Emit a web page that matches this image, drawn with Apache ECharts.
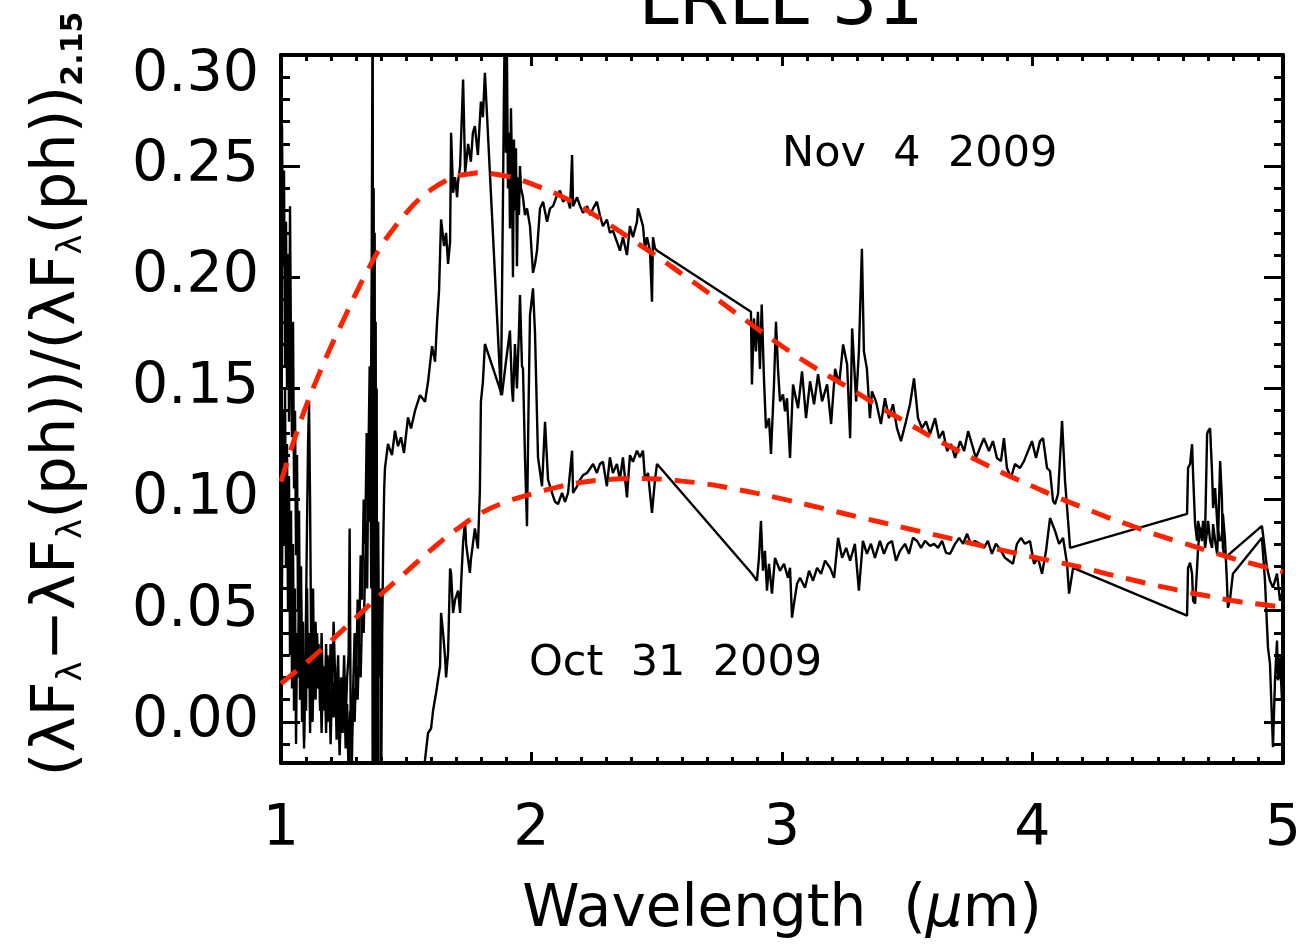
<!DOCTYPE html>
<html><head><meta charset="utf-8">
<script src="https://cdn.jsdelivr.net/npm/echarts@6/dist/echarts.min.js"></script>
<style>html,body{margin:0;padding:0;background:#fff}#c{width:1305px;height:946px}</style>
</head><body><div id="c"></div>
<script>
const FONT = 'DejaVu Sans';
const titleText = 'LRLL 31';
const xLabelText = 'Wavelength';
const yMajorTicks = [0, 0.05, 0.10, 0.15, 0.20, 0.25, 0.30];
const yMinorTicks = [-0.01, 0.01, 0.02, 0.03, 0.04, 0.06, 0.07, 0.08, 0.09, 0.11, 0.12, 0.13, 0.14,
  0.16, 0.17, 0.18, 0.19, 0.21, 0.22, 0.23, 0.24, 0.26, 0.27, 0.28, 0.29];
const annotations = ['Nov  4  2009', 'Oct  31  2009'];

// Nov 4 2009 spectrum [wavelength (um), value]
const novSpectrum = [
[1.000,0.170],[1.004,0.268],[1.008,0.205],[1.012,0.248],[1.016,0.160],[1.020,0.225],[1.024,0.150],[1.028,0.210],[1.032,0.135],[1.036,0.232],[1.040,0.165],[1.044,0.128],[1.048,0.180],[1.052,0.105],[1.056,0.140],[1.060,0.075],[1.064,0.120],[1.068,0.050],[1.072,0.095],[1.076,0.030],[1.080,0.070],[1.084,0.010],[1.088,0.045],[1.092,-0.008],[1.096,0.030],[1.100,0.005],[1.104,0.060],[1.108,0.015],[1.112,0.040],[1.116,-0.005],[1.120,0.025],[1.126,0.000],[1.132,0.035],[1.138,0.010],[1.144,0.040],[1.150,0.015],[1.156,0.030],[1.162,-0.005],[1.168,0.025],[1.174,0.005],[1.180,0.035],[1.186,0.000],[1.192,0.020],[1.198,-0.010],[1.204,0.018],[1.210,0.002],[1.216,0.025],[1.222,-0.008],[1.228,0.012],[1.234,-0.015],[1.240,0.010],[1.246,-0.005],[1.252,0.020],[1.258,-0.012],[1.264,0.008],[1.270,-0.025],[1.276,0.005],[1.282,-0.010],[1.288,0.015],[1.294,0.040],[1.300,0.020],[1.306,0.055],[1.312,0.035],[1.318,0.075],[1.324,0.055],[1.330,0.100],[1.336,0.080],[1.342,0.130],[1.348,0.110],[1.354,0.160],[1.358,0.120],[1.362,0.200],[1.366,0.340],[1.368,-0.030],[1.370,0.240],[1.372,0.010],[1.374,0.220],[1.376,-0.030],[1.378,0.180],[1.380,0.020],[1.382,0.150],[1.384,-0.030],[1.388,0.090],[1.392,0.020],[1.396,0.060],[1.400,-0.030],[1.404,0.040],[1.408,0.080],[1.412,0.105],
[1.415,0.114],[1.427,0.125],[1.443,0.120],[1.455,0.131],[1.467,0.124],[1.479,0.128],[1.491,0.121],[1.507,0.137],[1.519,0.132],[1.535,0.140],[1.555,0.147],[1.575,0.144],[1.587,0.153],[1.603,0.169],[1.615,0.162],[1.623,0.180],[1.631,0.194],[1.639,0.226],[1.651,0.214],[1.659,0.220],[1.667,0.206],[1.675,0.216],[1.679,0.265],[1.687,0.238],[1.695,0.245],[1.703,0.236],[1.707,0.243],[1.715,0.250],[1.727,0.289],[1.735,0.247],[1.747,0.260],[1.758,0.252],[1.766,0.265],[1.774,0.268],[1.786,0.255],[1.798,0.279],[1.806,0.272],[1.814,0.292],
[1.878,0.147],[1.886,0.234],[1.890,0.283],[1.894,0.320],[1.898,0.256],[1.902,0.300],[1.906,0.240],[1.910,0.265],[1.914,0.222],[1.918,0.276],[1.922,0.250],[1.926,0.200],[1.930,0.262],[1.934,0.230],[1.938,0.258],[1.942,0.205],[1.946,0.245],[1.950,0.228],[1.954,0.250],[1.958,0.240],[1.966,0.236],[1.974,0.228],[1.982,0.231],[1.994,0.223],[2.006,0.202],[2.014,0.206],[2.022,0.212],[2.034,0.231],[2.046,0.234],[2.062,0.225],[2.074,0.231],[2.086,0.232],[2.102,0.237],[2.114,0.239],[2.126,0.234],[2.142,0.236],[2.154,0.231],[2.162,0.255],[2.166,0.232],[2.182,0.236],[2.194,0.232],[2.206,0.229],[2.222,0.232],[2.234,0.228],[2.246,0.231],[2.261,0.234],[2.273,0.228],[2.285,0.223],[2.301,0.226],[2.313,0.220],[2.325,0.221],[2.341,0.216],[2.353,0.212],[2.365,0.218],[2.381,0.210],[2.393,0.223],[2.405,0.218],[2.421,0.225],[2.425,0.231],[2.433,0.228],[2.445,0.223],[2.453,0.213],[2.461,0.218],[2.473,0.212],[2.481,0.189],[2.485,0.218],[2.493,0.213],[2.501,0.212],
[2.876,0.1845],[2.880,0.1518],[2.888,0.1815],[2.896,0.1666],[2.904,0.1845],[2.912,0.1588],[2.919,0.1877],[2.928,0.1545],[2.936,0.1321],[2.948,0.1366],[2.956,0.1205],[2.968,0.1518],[2.976,0.180],[2.984,0.1588],[2.992,0.1442],[3.004,0.1473],[3.012,0.1397],[3.020,0.1456],[3.032,0.1187],[3.044,0.1518],[3.064,0.1411],[3.080,0.1577],[3.096,0.1366],[3.112,0.1532],[3.128,0.1429],[3.144,0.1564],[3.160,0.1442],[3.180,0.1518],[3.196,0.134],[3.212,0.1588],[3.228,0.1518],[3.244,0.1698],[3.260,0.1608],[3.272,0.1276],[3.280,0.1770],[3.296,0.1442],[3.307,0.1666],[3.319,0.2128],[3.327,0.1666],[3.339,0.1588],[3.351,0.1366],[3.359,0.1487],[3.375,0.1442],[3.395,0.134],[3.411,0.1456],[3.427,0.1366],[3.443,0.1429],[3.459,0.1321],[3.475,0.1263],[3.495,0.1352],[3.511,0.1429],[3.527,0.1545],[3.543,0.1366],[3.559,0.1321],[3.575,0.1352],[3.591,0.1294],[3.611,0.1366],[3.627,0.1276],[3.643,0.1308],[3.659,0.1218],[3.675,0.125],[3.691,0.1187],[3.711,0.1263],[3.727,0.1218],[3.743,0.1308],[3.758,0.125],[3.774,0.1187],[3.790,0.1232],[3.806,0.1276],[3.826,0.1218],[3.842,0.1263],[3.858,0.1187],[3.874,0.1173],[3.886,0.1276],[3.898,0.1142],[3.914,0.1097],[3.930,0.116],[3.950,0.1142],[3.966,0.1173],[3.982,0.1218],[3.998,0.1263],[4.014,0.1187],[4.030,0.1263],[4.042,0.1276],[4.058,0.1142],[4.070,0.1128],[4.082,0.0994],[4.090,0.098],[4.102,0.1025],[4.118,0.1353],[4.130,0.1083],[4.142,0.0904],[4.150,0.0783],
[4.617,0.0936],[4.621,0.1142],[4.629,0.116],[4.637,0.1249],[4.641,0.1115],[4.649,0.089],[4.657,0.0814],[4.661,0.0904],[4.669,0.0859],[4.677,0.0814],[4.681,0.089],[4.689,0.0846],[4.697,0.1294],[4.701,0.1308],[4.709,0.1321],[4.717,0.1115],[4.721,0.0962],[4.729,0.1052],[4.737,0.0904],[4.741,0.0828],[4.749,0.1173],[4.756,0.1007],[4.760,0.0783],[4.768,0.0738],
[4.916,0.0882],[4.920,0.0846],[4.936,0.0694],[4.948,0.0635],[4.960,0.0604],[4.976,0.0667],[4.988,0.0545],[5.000,0.059]
];

// Oct 31 2009 spectrum [wavelength (um), value]
const octSpectrum = [
[1.000,0.120],[1.004,0.060],[1.008,0.140],[1.012,0.080],[1.016,0.150],[1.020,0.070],[1.024,0.125],[1.028,0.050],[1.032,0.110],[1.036,0.030],[1.040,0.095],[1.044,0.015],[1.048,0.080],[1.052,0.005],[1.056,0.060],[1.060,-0.010],[1.064,0.040],[1.068,0.020],[1.072,0.070],[1.076,0.010],[1.080,0.055],[1.084,0.000],[1.088,0.030],[1.092,-0.012],[1.096,0.020],[1.100,0.050],[1.104,0.090],[1.108,0.125],[1.112,0.144],[1.116,0.100],[1.120,0.040],[1.124,0.010],[1.128,0.060],[1.132,0.020],[1.138,0.045],[1.144,0.015],[1.150,0.035],[1.156,0.005],[1.162,0.040],[1.168,0.010],[1.174,0.025],[1.180,-0.005],[1.186,0.030],[1.192,0.010],[1.198,0.035],[1.204,0.015],[1.210,0.045],[1.216,0.020],[1.222,0.010],[1.228,0.030],[1.234,-0.008],[1.240,0.020],[1.246,0.005],[1.252,0.030],[1.258,0.000],[1.264,0.020],[1.270,0.030],[1.274,0.087],[1.278,0.005],[1.282,-0.025],[1.288,0.015],[1.294,0.000],[1.300,0.025],[1.306,0.010],[1.312,0.035],[1.318,0.020],[1.324,0.050],[1.330,0.040],[1.336,0.070],[1.340,0.090],[1.344,0.060],[1.348,0.110],[1.352,0.090],[1.356,0.150],[1.360,0.060],[1.364,0.200],[1.366,-0.030],[1.368,0.170],[1.370,0.000],[1.372,0.120],[1.374,-0.030],[1.378,0.090],[1.382,-0.030],[1.386,0.050],[1.390,-0.030],[1.395,-0.045],[1.450,-0.060],[1.520,-0.050],[1.575,-0.017],[1.587,-0.005],[1.599,-0.003],[1.607,0.005],[1.619,0.013],[1.635,0.025],[1.639,0.049],[1.647,0.040],[1.655,0.029],[1.659,0.020],[1.667,0.031],[1.675,0.069],[1.679,0.067],[1.687,0.049],[1.695,0.055],[1.707,0.059],[1.715,0.049],[1.719,0.062],[1.727,0.081],[1.735,0.090],[1.739,0.080],[1.754,0.067],[1.758,0.073],[1.774,0.087],[1.786,0.078],[1.794,0.104],[1.798,0.144],[1.806,0.153],[1.814,0.170],
[1.882,0.147],[1.898,0.162],[1.914,0.176],[1.922,0.150],[1.926,0.144],[1.934,0.170],[1.942,0.150],[1.950,0.176],[1.954,0.192],[1.962,0.160],[1.966,0.159],[1.974,0.119],[1.982,0.088],[1.988,0.140],[1.994,0.183],[2.006,0.195],[2.014,0.175],[2.026,0.119],[2.042,0.106],[2.054,0.135],[2.066,0.109],[2.082,0.103],[2.094,0.099],[2.106,0.098],[2.122,0.103],[2.134,0.099],[2.146,0.103],[2.162,0.122],[2.166,0.103],[2.182,0.106],[2.194,0.109],[2.206,0.111],[2.222,0.112],[2.234,0.114],[2.246,0.116],[2.261,0.112],[2.273,0.116],[2.285,0.117],[2.301,0.106],[2.313,0.119],[2.325,0.112],[2.341,0.116],[2.353,0.109],[2.365,0.119],[2.381,0.101],[2.393,0.120],[2.405,0.117],[2.421,0.122],[2.433,0.119],[2.445,0.122],[2.453,0.109],[2.465,0.112],[2.481,0.094],[2.493,0.109],[2.501,0.116],
[2.880,0.0666],[2.900,0.0635],[2.908,0.0738],[2.916,0.0904],[2.924,0.068],[2.932,0.0769],[2.940,0.059],[2.948,0.0711],[2.960,0.0577],[2.972,0.0738],[2.992,0.068],[3.008,0.0711],[3.024,0.0648],[3.032,0.0693],[3.040,0.0469],[3.048,0.0532],[3.060,0.0621],[3.072,0.0648],[3.092,0.0603],[3.108,0.068],[3.124,0.0635],[3.140,0.0693],[3.156,0.0666],[3.172,0.0725],[3.192,0.0693],[3.208,0.0648],[3.224,0.0828],[3.240,0.0738],[3.256,0.0783],[3.272,0.0725],[3.291,0.0801],[3.307,0.059],[3.323,0.0814],[3.339,0.0756],[3.355,0.0801],[3.371,0.0738],[3.391,0.0814],[3.407,0.0756],[3.423,0.0801],[3.439,0.0814],[3.455,0.0725],[3.471,0.0769],[3.491,0.0801],[3.507,0.0756],[3.523,0.0828],[3.539,0.0814],[3.555,0.0783],[3.571,0.0814],[3.591,0.0792],[3.607,0.0801],[3.623,0.0783],[3.639,0.0814],[3.655,0.076],[3.671,0.0756],[3.691,0.0801],[3.707,0.0828],[3.723,0.0801],[3.739,0.0846],[3.754,0.0801],[3.770,0.0814],[3.790,0.0801],[3.806,0.0783],[3.822,0.0814],[3.838,0.0756],[3.854,0.0801],[3.870,0.0778],[3.890,0.0738],[3.906,0.0725],[3.922,0.0711],[3.938,0.0801],[3.954,0.0828],[3.970,0.0801],[3.990,0.0814],[4.006,0.0711],[4.022,0.0738],[4.038,0.0666],[4.054,0.0769],[4.070,0.0917],[4.090,0.0859],[4.106,0.0801],[4.122,0.0828],[4.138,0.0711],[4.146,0.0577],[4.162,0.0693],
[4.617,0.0478],[4.621,0.0693],[4.629,0.0716],[4.637,0.0667],[4.641,0.0545],[4.649,0.0532],[4.657,0.0693],[4.661,0.0783],[4.669,0.0873],[4.677,0.0828],[4.681,0.0904],[4.689,0.0783],[4.697,0.0859],[4.701,0.0904],[4.709,0.0814],[4.717,0.0783],[4.721,0.089],[4.729,0.0814],[4.737,0.0756],[4.741,0.0859],[4.749,0.0814],[4.756,0.0828],[4.760,0.0936],[4.768,0.0828],[4.776,0.0635],[4.780,0.0514],[4.788,0.0545],[4.800,0.0666],
[4.916,0.0828],[4.928,0.0635],[4.940,0.0335],[4.948,0.0262],[4.956,0.0007],[4.960,-0.0114],[4.968,0.0187],[4.976,0.0366],[4.980,0.0187],[4.988,0.029],[4.996,0.0097]
];

// Model fits (red dashed)
const novFit = [[1.0,0.108],[1.05,0.126],[1.1,0.142],[1.15,0.156],[1.2,0.169],[1.25,0.181],[1.3,0.193],[1.35,0.204],[1.4,0.214],[1.45,0.222],[1.5,0.229],[1.55,0.235],[1.6,0.2395],[1.65,0.243],[1.7,0.2455],[1.75,0.2465],[1.8,0.247],[1.85,0.2465],[1.9,0.2455],[1.95,0.244],[2.0,0.242],[2.1,0.2375],[2.2,0.2315],[2.3,0.2245],[2.4,0.217],[2.5,0.2095],[2.6,0.2015],[2.7,0.1935],[2.8,0.1852],[2.9,0.177],[3.0,0.169],[3.1,0.1615],[3.2,0.1547],[3.3,0.148],[3.4,0.141],[3.5,0.1345],[3.6,0.128],[3.7,0.1222],[3.8,0.1165],[3.9,0.111],[4.0,0.106],[4.1,0.101],[4.2,0.0965],[4.3,0.092],[4.4,0.088],[4.5,0.084],[4.6,0.0805],[4.7,0.077],[4.8,0.0735],[4.9,0.0705],[5.0,0.0675]];
const octFit = [[1.0,0.0173],[1.1,0.0265],[1.2,0.0365],[1.3,0.047],[1.4,0.0575],[1.5,0.0675],[1.6,0.0775],[1.7,0.0865],[1.8,0.094],[1.9,0.099],[2.0,0.1025],[2.1,0.1055],[2.2,0.1078],[2.3,0.109],[2.4,0.1095],[2.5,0.1093],[2.6,0.1083],[2.7,0.107],[2.8,0.105],[2.9,0.1028],[3.0,0.1003],[3.1,0.0977],[3.2,0.095],[3.3,0.0923],[3.4,0.0897],[3.5,0.087],[3.6,0.0844],[3.7,0.0818],[3.8,0.0792],[3.9,0.0767],[4.0,0.0742],[4.1,0.0718],[4.2,0.0694],[4.3,0.0665],[4.4,0.0638],[4.5,0.0612],[4.6,0.0588],[4.7,0.0566],[4.8,0.0545],[4.9,0.053],[5.0,0.0515]];

const X_MIN = 1, X_MAX = 5, Y_MIN = -0.0185, Y_MAX = 0.30;
const AX = { color: '#000', width: 4 };

function xAx(pos, labels) {
  return {
    type: 'value', position: pos, min: X_MIN, max: X_MAX, interval: 1,
    axisLine: { onZero: false, lineStyle: AX },
    axisTick: { inside: true, length: 11, lineStyle: { color: '#000', width: 3 } },
    minorTick: { show: true, splitNumber: 10, length: 6, lineStyle: { color: '#000', width: 3 } },
    splitLine: { show: false },
    axisLabel: labels ? { show: true, fontSize: 57, fontFamily: FONT, color: '#000', margin: 39 } : { show: false },
    name: labels ? '{n|' + xLabelText + '  (}{mu|μ}{n|m)}' : '',
    nameLocation: 'middle', nameGap: 119,
    nameTextStyle: { rich: { n: { fontSize: 58, fontFamily: FONT, color: '#000' }, mu: { fontSize: 58, fontFamily: FONT, fontStyle: 'italic', color: '#000' } } }
  };
}
function yAx(pos, ticks, len, labels, line) {
  const o = {
    type: 'value', position: pos, min: Y_MIN, max: Y_MAX,
    axisLine: { show: line, onZero: false, lineStyle: AX },
    axisTick: { show: true, inside: true, length: len, customValues: ticks, lineStyle: { color: '#000', width: 3 } },
    splitLine: { show: false },
    axisLabel: { show: false }
  };
  if (labels) {
    o.axisLabel = {
      show: true, customValues: yMajorTicks, margin: 22, fontSize: 57, fontFamily: FONT, color: '#000',
      formatter: v => Math.abs(v - 0.30) < 1e-6 ? '{t|0.30}' : v.toFixed(2),
      rich: { t: { fontSize: 57, fontFamily: FONT, color: '#000', padding: [42, 0, 0, 0] } }
    };
    o.name = '{m0|(λF}{s|λ}{m|−λF}{s|λ}{m|(ph))/(λF}{s|λ}{m|(ph))}{b|2.15}';
    o.nameLocation = 'middle';
    o.nameGap = 192;
    o.nameTextStyle = { rich: {
      m0: { fontSize: 61, fontFamily: FONT, color: '#000', padding: [0, 0, 0, 30] },
      m: { fontSize: 61, fontFamily: FONT, color: '#000' },
      s: { fontSize: 34, fontFamily: FONT, color: '#000', verticalAlign: 'bottom', lineHeight: 20 },
      b: { fontSize: 30, fontFamily: FONT, fontWeight: 'bold', color: '#000', verticalAlign: 'bottom', lineHeight: 18 }
    } };
  }
  return o;
}

const chart = echarts.init(document.getElementById('c'), null, { renderer: 'canvas' });
chart.setOption({
  animation: false,
  backgroundColor: '#fff',
  title: { text: titleText, left: 776, textAlign: 'center', top: -36,
    textStyle: { fontSize: 72, fontWeight: 'normal', fontFamily: FONT, color: '#000' } },
  grid: { left: 281, right: 22, top: 55, bottom: 183, containLabel: false, outerBoundsMode: 'none' },
  xAxis: [xAx('bottom', true), xAx('top', false)],
  yAxis: [
    yAx('left', yMajorTicks, 19, true, true),
    yAx('left', yMinorTicks, 9, false, false),
    yAx('right', yMajorTicks, 19, false, true),
    yAx('right', yMinorTicks, 9, false, false)
  ],
  graphic: [
    { type: 'text', left: 782, top: 133, style: { text: annotations[0], fontSize: 43, fontFamily: FONT, fill: '#000' } },
    { type: 'text', left: 529, top: 642, style: { text: annotations[1], fontSize: 43, fontFamily: FONT, fill: '#000' } }
  ],
  series: [
    { name: 'Nov 4 2009', type: 'line', data: novSpectrum, showSymbol: false, symbol: 'none', clip: true,
      lineStyle: { color: '#000', width: 2.4 }, z: 2 },
    { name: 'Oct 31 2009', type: 'line', data: octSpectrum, showSymbol: false, symbol: 'none', clip: true,
      lineStyle: { color: '#000', width: 2.4 }, z: 2 },
    { name: 'Nov fit', type: 'line', data: novFit, showSymbol: false, symbol: 'none', smooth: true, clip: true,
      lineStyle: { color: '#ff2200', width: 5, type: [20, 13] }, z: 3 },
    { name: 'Oct fit', type: 'line', data: octFit, showSymbol: false, symbol: 'none', smooth: true, clip: true,
      lineStyle: { color: '#ff2200', width: 5, type: [20, 13] }, z: 3 }
  ]
});
</script></body></html>
